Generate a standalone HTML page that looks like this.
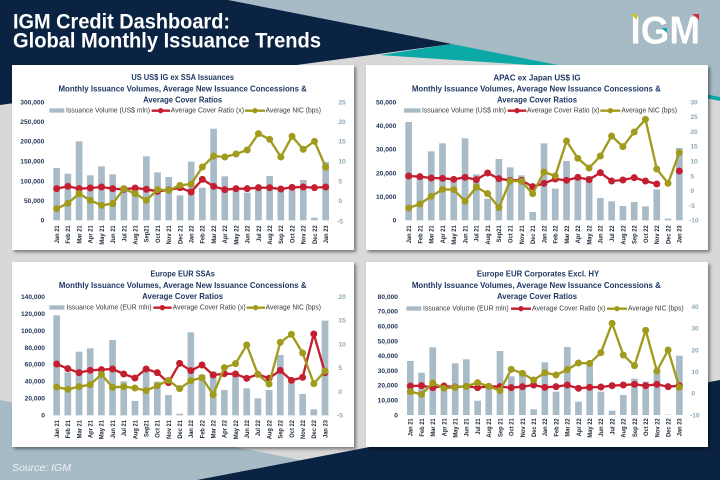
<!DOCTYPE html>
<html><head><meta charset="utf-8">
<style>
body{margin:0;width:720px;height:480px;overflow:hidden;position:relative;background:#d8d8d8;font-family:"Liberation Sans",sans-serif}
.bg{position:absolute;left:0;top:0}
.p{position:absolute;width:342px;height:185px;background:#fff;box-shadow:2px 2px 3px rgba(0,0,0,.45)}
.c{position:absolute;overflow:visible}
.c text{font-family:"Liberation Sans",sans-serif}
.t{font-size:25px;font-weight:bold;fill:#1f3864;text-anchor:middle}
.la{font-size:20px;font-weight:bold;fill:#26395a;text-anchor:end}
.ra{font-size:20px;font-weight:bold;fill:#8ea8b9}
.lg{font-size:21px;fill:#3a3a3a}
.xl{font-size:20px;font-weight:bold;fill:#1c2838;text-anchor:end}
.bar{fill:#a8bbc7}
.rl{fill:none;stroke:#c41f30;stroke-width:7;stroke-linejoin:round}
.ol{fill:none;stroke:#a19b1d;stroke-width:7;stroke-linejoin:round}
</style></head><body>
<svg class="bg" width="720" height="480" viewBox="0 0 720 480">
<rect width="720" height="480" fill="#d8d8d8"/>
<polygon points="0,0 720,0 720,97 452,44" fill="#a7bbc6"/>
<polygon points="0,0 228,0 452,44 0,105" fill="#0b2343"/>
<polygon points="380,55 452,44 720,97 720,101 560,67" fill="#0aa9a6"/>
<polygon points="0,400 300,460 300,480 0,480" fill="#a7bbc6"/>
<polygon points="197,480 720,380 720,480" fill="#0b2343"/>
<text x="13" y="28.5" font-size="21" font-weight="bold" fill="#fff" textLength="217" lengthAdjust="spacingAndGlyphs">IGM Credit Dashboard:</text>
<text x="13" y="47.3" font-size="21" font-weight="bold" fill="#fff" textLength="308" lengthAdjust="spacingAndGlyphs">Global Monthly Issuance Trends</text>
<text x="630.5" y="43.3" font-size="39" font-weight="bold" fill="#fff" textLength="69.5" lengthAdjust="spacingAndGlyphs">IGM</text>
<polygon points="630.7,14 637,14 637,20" fill="#c8c61e"/>
<polygon points="692.5,14 699,14 699,20" fill="#d42a36"/>
<polygon points="661.5,28 667,28 667,33" fill="#0aa9a6"/>
<text x="12" y="471" font-size="10.5" font-style="italic" fill="#eef2f5">Source: IGM</text>
</svg>

<div class="p" style="left:12px;top:65px"></div>
<div class="p" style="left:366px;top:65px"></div>
<div class="p" style="left:12px;top:262px"></div>
<div class="p" style="left:366px;top:262px"></div>

<!-- Chart 1 -->
<svg class="c" style="left:5px;top:62px" width="355" height="195" viewBox="0 0 1065 585">
<defs>
<marker id="mr1" viewBox="-11 -11 22 22" markerWidth="22" markerHeight="22" markerUnits="userSpaceOnUse"><circle r="10.5" fill="#c41f30"/></marker>
<marker id="mo1" viewBox="-11 -11 22 22" markerWidth="22" markerHeight="22" markerUnits="userSpaceOnUse"><circle r="10.5" fill="#a19b1d"/></marker>
</defs>
<text class="t" x="533" y="54" textLength="308" lengthAdjust="spacingAndGlyphs">US US$ IG ex SSA Issuances</text>
<text class="t" x="533" y="89" textLength="745" lengthAdjust="spacingAndGlyphs">Monthly Issuance Volumes, Average New Issuance Concessions &amp;</text>
<text class="t" x="533" y="121" textLength="237" lengthAdjust="spacingAndGlyphs">Average Cover Ratios</text>
<g class="la">
<text x="118" y="127">300,000</text><text x="118" y="186">250,000</text><text x="118" y="245">200,000</text><text x="118" y="305">150,000</text><text x="118" y="364">100,000</text><text x="118" y="423">50,000</text><text x="118" y="482">0</text>
</g>
<g class="ra">
<text x="1000" y="127">25</text><text x="1000" y="186">20</text><text x="1000" y="245">15</text><text x="1000" y="305">10</text><text x="1000" y="364">5</text><text x="1000" y="423">0</text><text x="996" y="484">-5</text>
</g>
<g class="bar">
<rect x="145" y="318" width="20" height="157"/><rect x="178.6" y="335" width="20" height="140"/><rect x="212.3" y="238" width="20" height="237"/><rect x="245.9" y="340" width="20" height="135"/><rect x="279.5" y="313" width="20" height="162"/><rect x="313.1" y="337" width="20" height="138"/><rect x="346.8" y="372" width="20" height="103"/><rect x="380.4" y="380" width="20" height="95"/><rect x="414" y="283" width="20" height="192"/><rect x="447.6" y="331" width="20" height="144"/><rect x="481.3" y="345" width="20" height="130"/><rect x="514.9" y="400" width="20" height="75"/><rect x="548.5" y="299" width="20" height="176"/><rect x="582.1" y="377" width="20" height="98"/><rect x="615.8" y="200" width="20" height="275"/><rect x="649.4" y="343" width="20" height="132"/><rect x="683" y="385" width="20" height="90"/><rect x="716.6" y="392" width="20" height="83"/><rect x="750.3" y="378" width="20" height="97"/><rect x="783.9" y="342" width="20" height="133"/><rect x="817.5" y="385" width="20" height="90"/><rect x="851.1" y="382" width="20" height="93"/><rect x="884.8" y="354" width="20" height="121"/><rect x="918.4" y="467" width="20" height="8"/><rect x="952" y="300" width="20" height="175"/>
</g>
<rect class="bar" x="133" y="139" width="45" height="13"/>
<text class="lg" x="183" y="152" textLength="252" lengthAdjust="spacingAndGlyphs">Issuance Volume (US$ mln)</text>
<line x1="440" y1="146" x2="495" y2="146" stroke="#c41f30" stroke-width="7"/><circle cx="467" cy="146" r="8" fill="#c41f30"/>
<text class="lg" x="497" y="152" textLength="220" lengthAdjust="spacingAndGlyphs">Average Cover Ratio (x)</text>
<line x1="720" y1="146" x2="780" y2="146" stroke="#a19b1d" stroke-width="7"/><circle cx="750" cy="146" r="8" fill="#a19b1d"/>
<text class="lg" x="782" y="152" textLength="166" lengthAdjust="spacingAndGlyphs">Average NIC (bps)</text>
<polyline class="rl" marker-start="url(#mr1)" marker-mid="url(#mr1)" marker-end="url(#mr1)" points="155,380 188.6,373 222.3,380 255.9,378 289.5,375 323.1,380 356.8,382 390.4,378 424,382 457.6,388 491.3,384 524.9,377 558.5,390 592.1,352 625.8,373 659.4,383 693,380 726.6,380 760.3,377 793.9,377 827.5,381 861.1,376 894.8,375 928.4,377 962,375"/>
<polyline class="ol" marker-start="url(#mo1)" marker-mid="url(#mo1)" marker-end="url(#mo1)" points="155,440 188.6,424 222.3,395 255.9,415 289.5,430 323.1,425 356.8,380 390.4,395 424,415 457.6,383 491.3,385 524.9,370 558.5,366 592.1,315 625.8,282 659.4,285 693,276 726.6,264 760.3,215 793.9,232 827.5,285 861.1,223 894.8,262 928.4,238 962,315"/>
<g class="xl">
<text transform="translate(162,490) rotate(-90) scale(0.87,1)">Jan 21</text><text transform="translate(195.6,490) rotate(-90) scale(0.87,1)">Feb 21</text><text transform="translate(229.3,490) rotate(-90) scale(0.87,1)">Mar 21</text><text transform="translate(262.9,490) rotate(-90) scale(0.87,1)">Apr 21</text><text transform="translate(296.5,490) rotate(-90) scale(0.87,1)">May 21</text><text transform="translate(330.1,490) rotate(-90) scale(0.87,1)">Jun 21</text><text transform="translate(363.8,490) rotate(-90) scale(0.87,1)">Jul 21</text><text transform="translate(397.4,490) rotate(-90) scale(0.87,1)">Aug 21</text><text transform="translate(431,490) rotate(-90) scale(0.87,1)">Sep21</text><text transform="translate(464.6,490) rotate(-90) scale(0.87,1)">Oct 21</text><text transform="translate(498.3,490) rotate(-90) scale(0.87,1)">Nov 21</text><text transform="translate(531.9,490) rotate(-90) scale(0.87,1)">Dec 21</text><text transform="translate(565.5,490) rotate(-90) scale(0.87,1)">Jan 22</text><text transform="translate(599.1,490) rotate(-90) scale(0.87,1)">Feb 22</text><text transform="translate(632.8,490) rotate(-90) scale(0.87,1)">Mar 22</text><text transform="translate(666.4,490) rotate(-90) scale(0.87,1)">Apr 22</text><text transform="translate(700,490) rotate(-90) scale(0.87,1)">May 22</text><text transform="translate(733.6,490) rotate(-90) scale(0.87,1)">Jun 22</text><text transform="translate(767.3,490) rotate(-90) scale(0.87,1)">Jul 22</text><text transform="translate(800.9,490) rotate(-90) scale(0.87,1)">Aug 22</text><text transform="translate(834.5,490) rotate(-90) scale(0.87,1)">Sep 22</text><text transform="translate(868.1,490) rotate(-90) scale(0.87,1)">Oct 22</text><text transform="translate(901.8,490) rotate(-90) scale(0.87,1)">Nov 22</text><text transform="translate(935.4,490) rotate(-90) scale(0.87,1)">Dec 22</text><text transform="translate(969,490) rotate(-90) scale(0.87,1)">Jan 23</text>
</g>
</svg>

<!-- Chart 3: APAC -->
<svg class="c" style="left:362px;top:62px" width="355" height="195" viewBox="0 0 1065 585">
<defs>
<marker id="mr3" viewBox="-11 -11 22 22" markerWidth="22" markerHeight="22" markerUnits="userSpaceOnUse"><circle r="10.5" fill="#c41f30"/></marker>
<marker id="mo3" viewBox="-11 -11 22 22" markerWidth="22" markerHeight="22" markerUnits="userSpaceOnUse"><circle r="10.5" fill="#a19b1d"/></marker>
</defs>
<text class="t" x="525" y="56" textLength="262" lengthAdjust="spacingAndGlyphs">APAC ex Japan US$ IG</text>
<text class="t" x="523" y="89" textLength="747" lengthAdjust="spacingAndGlyphs">Monthly Issuance Volumes, Average New Issuance Concessions &amp;</text>
<text class="t" x="525" y="121" textLength="240" lengthAdjust="spacingAndGlyphs">Average Cover Ratios</text>
<g class="la">
<text x="103" y="127">50,000</text><text x="103" y="198">40,000</text><text x="103" y="269">30,000</text><text x="103" y="340">20,000</text><text x="103" y="411">10,000</text><text x="103" y="482">0</text>
</g>
<g class="ra">
<text x="985" y="127">30</text><text x="985" y="171">25</text><text x="985" y="216">20</text><text x="985" y="260">15</text><text x="985" y="304">10</text><text x="985" y="349">5</text><text x="985" y="393">0</text><text x="981" y="438">-5</text><text x="981" y="482">-10</text>
</g>
<g class="bar">
<rect x="130" y="180" width="20" height="295"/><rect x="163.8" y="342" width="20" height="133"/><rect x="197.7" y="268" width="20" height="207"/><rect x="231.5" y="244" width="20" height="231"/><rect x="265.3" y="350" width="20" height="125"/><rect x="299.2" y="229" width="20" height="246"/><rect x="333" y="337" width="20" height="138"/><rect x="366.8" y="410" width="20" height="65"/><rect x="400.6" y="291" width="20" height="184"/><rect x="434.5" y="316" width="20" height="159"/><rect x="468.3" y="340" width="20" height="135"/><rect x="502.1" y="450" width="20" height="25"/><rect x="536" y="244" width="20" height="231"/><rect x="569.8" y="380" width="20" height="95"/><rect x="603.6" y="297" width="20" height="178"/><rect x="637.5" y="345" width="20" height="130"/><rect x="671.3" y="342" width="20" height="133"/><rect x="705.1" y="408" width="20" height="67"/><rect x="738.9" y="418" width="20" height="57"/><rect x="772.8" y="432" width="20" height="43"/><rect x="806.6" y="420" width="20" height="55"/><rect x="840.4" y="433" width="20" height="42"/><rect x="874.3" y="382" width="20" height="93"/><rect x="908.1" y="470" width="20" height="5"/><rect x="941.9" y="258" width="20" height="217"/>
</g>
<rect class="bar" x="126" y="139" width="50" height="13"/>
<text class="lg" x="180" y="152" textLength="252" lengthAdjust="spacingAndGlyphs">Issuance Volume (US$ mln)</text>
<line x1="437" y1="146" x2="493" y2="146" stroke="#c41f30" stroke-width="7"/><circle cx="465" cy="146" r="8" fill="#c41f30"/>
<text class="lg" x="495" y="152" textLength="217" lengthAdjust="spacingAndGlyphs">Average Cover Ratio (x)</text>
<line x1="715" y1="146" x2="775" y2="146" stroke="#a19b1d" stroke-width="7"/><circle cx="745" cy="146" r="8" fill="#a19b1d"/>
<text class="lg" x="778" y="152" textLength="167" lengthAdjust="spacingAndGlyphs">Average NIC (bps)</text>
<polyline class="rl" marker-start="url(#mr3)" marker-mid="url(#mr3)" marker-end="url(#mr3)" points="140,342 173.8,344 207.7,348 241.5,349 275.3,352 309.2,346 343,353 376.8,333 410.6,350 444.5,355 478.3,355 512.1,374 546,364 579.8,351 613.6,355 647.5,346 681.3,353 715.1,332 748.9,357 782.8,354 816.6,347 850.4,357 884.3,366"/>
<circle cx="951.9" cy="327" r="10.5" fill="#c41f30"/>
<polyline class="ol" marker-start="url(#mo3)" marker-mid="url(#mo3)" marker-end="url(#mo3)" points="140,438 173.8,426 207.7,403 241.5,382 275.3,383 309.2,418 343,375 376.8,395 410.6,437 444.5,357 478.3,358 512.1,395 546,330 579.8,342 613.6,237 647.5,289 681.3,318 715.1,282 748.9,222 782.8,254 816.6,210 850.4,172 884.3,321 918.1,364 951.9,272"/>
<g class="xl">
<text transform="translate(147,490) rotate(-90) scale(0.87,1)">Jan 21</text><text transform="translate(180.8,490) rotate(-90) scale(0.87,1)">Feb 21</text><text transform="translate(214.7,490) rotate(-90) scale(0.87,1)">Mar 21</text><text transform="translate(248.5,490) rotate(-90) scale(0.87,1)">Apr 21</text><text transform="translate(282.3,490) rotate(-90) scale(0.87,1)">May 21</text><text transform="translate(316.2,490) rotate(-90) scale(0.87,1)">Jun 21</text><text transform="translate(350,490) rotate(-90) scale(0.87,1)">Jul 21</text><text transform="translate(383.8,490) rotate(-90) scale(0.87,1)">Aug 21</text><text transform="translate(417.6,490) rotate(-90) scale(0.87,1)">Sep21</text><text transform="translate(451.5,490) rotate(-90) scale(0.87,1)">Oct 21</text><text transform="translate(485.3,490) rotate(-90) scale(0.87,1)">Nov 21</text><text transform="translate(519.1,490) rotate(-90) scale(0.87,1)">Dec 21</text><text transform="translate(553,490) rotate(-90) scale(0.87,1)">Jan 22</text><text transform="translate(586.8,490) rotate(-90) scale(0.87,1)">Feb 22</text><text transform="translate(620.6,490) rotate(-90) scale(0.87,1)">Mar 22</text><text transform="translate(654.5,490) rotate(-90) scale(0.87,1)">Apr 22</text><text transform="translate(688.3,490) rotate(-90) scale(0.87,1)">May 22</text><text transform="translate(722.1,490) rotate(-90) scale(0.87,1)">Jun 22</text><text transform="translate(755.9,490) rotate(-90) scale(0.87,1)">Jul 22</text><text transform="translate(789.8,490) rotate(-90) scale(0.87,1)">Aug 22</text><text transform="translate(823.6,490) rotate(-90) scale(0.87,1)">Sep 22</text><text transform="translate(857.4,490) rotate(-90) scale(0.87,1)">Oct 22</text><text transform="translate(891.3,490) rotate(-90) scale(0.87,1)">Nov 22</text><text transform="translate(925.1,490) rotate(-90) scale(0.87,1)">Dec 22</text><text transform="translate(958.9,490) rotate(-90) scale(0.87,1)">Jan 23</text>
</g>
</svg>

<!-- Chart 2: Europe EUR SSAs -->
<svg class="c" style="left:5px;top:255px" width="355" height="200" viewBox="0 0 1065 600">
<defs>
<marker id="mr2" viewBox="-11 -11 22 22" markerWidth="22" markerHeight="22" markerUnits="userSpaceOnUse"><circle r="10.5" fill="#c41f30"/></marker>
<marker id="mo2" viewBox="-11 -11 22 22" markerWidth="22" markerHeight="22" markerUnits="userSpaceOnUse"><circle r="10.5" fill="#a19b1d"/></marker>
</defs>
<text class="t" x="533" y="64" textLength="193" lengthAdjust="spacingAndGlyphs">Europe EUR SSAs</text>
<text class="t" x="533" y="99" textLength="743" lengthAdjust="spacingAndGlyphs">Monthly Issuance Volumes, Average New Issuance Concessions &amp;</text>
<text class="t" x="533" y="132" textLength="243" lengthAdjust="spacingAndGlyphs">Average Cover Ratios</text>
<g class="la">
<text x="120" y="132">140,000</text><text x="120" y="183">120,000</text><text x="120" y="234">100,000</text><text x="120" y="285">80,000</text><text x="120" y="335">60,000</text><text x="120" y="386">40,000</text><text x="120" y="437">20,000</text><text x="120" y="488">0</text>
</g>
<g class="ra">
<text x="1000" y="132">20</text><text x="1000" y="203">15</text><text x="1000" y="274">10</text><text x="1000" y="345">5</text><text x="1000" y="417">0</text><text x="996" y="488">-5</text>
</g>
<g class="bar">
<rect x="145" y="181" width="20" height="300"/><rect x="178.5" y="352" width="20" height="129"/><rect x="212.1" y="290" width="20" height="191"/><rect x="245.6" y="280" width="20" height="201"/><rect x="279.2" y="352" width="20" height="129"/><rect x="312.7" y="255" width="20" height="226"/><rect x="346.2" y="379" width="20" height="102"/><rect x="379.8" y="438" width="20" height="43"/><rect x="413.3" y="340" width="20" height="141"/><rect x="446.9" y="380" width="20" height="101"/><rect x="480.4" y="420" width="20" height="61"/><rect x="513.9" y="476" width="20" height="5"/><rect x="547.5" y="232" width="20" height="249"/><rect x="581" y="359" width="20" height="122"/><rect x="614.6" y="349" width="20" height="132"/><rect x="648.1" y="405" width="20" height="76"/><rect x="681.6" y="361" width="20" height="120"/><rect x="715.2" y="400" width="20" height="81"/><rect x="748.7" y="430" width="20" height="51"/><rect x="782.3" y="405" width="20" height="76"/><rect x="815.8" y="300" width="20" height="181"/><rect x="849.3" y="380" width="20" height="101"/><rect x="882.9" y="417" width="20" height="64"/><rect x="916.4" y="463" width="20" height="18"/><rect x="950" y="197" width="20" height="284"/>
</g>
<rect class="bar" x="133" y="151" width="45" height="13"/>
<text class="lg" x="185" y="164" textLength="255" lengthAdjust="spacingAndGlyphs">Issuance Volume (EUR mln)</text>
<line x1="445" y1="158" x2="500" y2="158" stroke="#c41f30" stroke-width="7"/><circle cx="472" cy="158" r="8" fill="#c41f30"/>
<text class="lg" x="503" y="164" textLength="219" lengthAdjust="spacingAndGlyphs">Average Cover Ratio (x)</text>
<line x1="725" y1="158" x2="780" y2="158" stroke="#a19b1d" stroke-width="7"/><circle cx="752" cy="158" r="8" fill="#a19b1d"/>
<text class="lg" x="782" y="164" textLength="166" lengthAdjust="spacingAndGlyphs">Average NIC (bps)</text>
<polyline class="rl" marker-start="url(#mr2)" marker-mid="url(#mr2)" marker-end="url(#mr2)" points="155,327 188.5,341 222.1,353 255.6,346 289.2,344 322.7,342 356.2,357 389.8,369 423.3,342 456.9,353 490.4,383 523.9,325 557.5,347 591,330 624.6,360 658.1,356 691.6,357 725.2,370 758.7,358 792.3,370 825.8,346 859.3,376 892.9,367 926.4,237 960,353"/>
<polyline class="ol" marker-start="url(#mo2)" marker-mid="url(#mo2)" marker-end="url(#mo2)" points="155,396 188.5,403 222.1,395 255.6,389 289.2,358 322.7,397 356.2,395 389.8,399 423.3,407 456.9,392 490.4,376 523.9,401 557.5,377 591,368 624.6,419 658.1,338 691.6,326 725.2,270 758.7,358 792.3,387 825.8,262 859.3,238 892.9,294 926.4,386 960,348"/>
<g class="xl">
<text transform="translate(162,495) rotate(-90) scale(0.87,1)">Jan 21</text><text transform="translate(195.5,495) rotate(-90) scale(0.87,1)">Feb 21</text><text transform="translate(229.1,495) rotate(-90) scale(0.87,1)">Mar 21</text><text transform="translate(262.6,495) rotate(-90) scale(0.87,1)">Apr 21</text><text transform="translate(296.2,495) rotate(-90) scale(0.87,1)">May 21</text><text transform="translate(329.7,495) rotate(-90) scale(0.87,1)">Jun 21</text><text transform="translate(363.2,495) rotate(-90) scale(0.87,1)">Jul 21</text><text transform="translate(396.8,495) rotate(-90) scale(0.87,1)">Aug 21</text><text transform="translate(430.3,495) rotate(-90) scale(0.87,1)">Sep21</text><text transform="translate(463.9,495) rotate(-90) scale(0.87,1)">Oct 21</text><text transform="translate(497.4,495) rotate(-90) scale(0.87,1)">Nov 21</text><text transform="translate(530.9,495) rotate(-90) scale(0.87,1)">Dec 21</text><text transform="translate(564.5,495) rotate(-90) scale(0.87,1)">Jan 22</text><text transform="translate(598,495) rotate(-90) scale(0.87,1)">Feb 22</text><text transform="translate(631.6,495) rotate(-90) scale(0.87,1)">Mar 22</text><text transform="translate(665.1,495) rotate(-90) scale(0.87,1)">Apr 22</text><text transform="translate(698.6,495) rotate(-90) scale(0.87,1)">May 22</text><text transform="translate(732.2,495) rotate(-90) scale(0.87,1)">Jun 22</text><text transform="translate(765.7,495) rotate(-90) scale(0.87,1)">Jul 22</text><text transform="translate(799.3,495) rotate(-90) scale(0.87,1)">Aug 22</text><text transform="translate(832.8,495) rotate(-90) scale(0.87,1)">Sep 22</text><text transform="translate(866.3,495) rotate(-90) scale(0.87,1)">Oct 22</text><text transform="translate(899.9,495) rotate(-90) scale(0.87,1)">Nov 22</text><text transform="translate(933.4,495) rotate(-90) scale(0.87,1)">Dec 22</text><text transform="translate(967,495) rotate(-90) scale(0.87,1)">Jan 23</text>
</g>
</svg>

<!-- Chart 4: Europe EUR Corporates -->
<svg class="c" style="left:362px;top:255px" width="355" height="200" viewBox="0 0 1065 600">
<defs>
<marker id="mr4" viewBox="-11 -11 22 22" markerWidth="22" markerHeight="22" markerUnits="userSpaceOnUse"><circle r="10.5" fill="#c41f30"/></marker>
<marker id="mo4" viewBox="-11 -11 22 22" markerWidth="22" markerHeight="22" markerUnits="userSpaceOnUse"><circle r="10.5" fill="#a19b1d"/></marker>
</defs>
<text class="t" x="528" y="64" textLength="367" lengthAdjust="spacingAndGlyphs">Europe EUR Corporates Excl. HY</text>
<text class="t" x="523" y="99" textLength="747" lengthAdjust="spacingAndGlyphs">Monthly Issuance Volumes, Average New Issuance Concessions &amp;</text>
<text class="t" x="525" y="132" textLength="240" lengthAdjust="spacingAndGlyphs">Average Cover Ratios</text>
<g class="la">
<text x="108" y="132">80,000</text><text x="108" y="176">70,000</text><text x="108" y="221">60,000</text><text x="108" y="265">50,000</text><text x="108" y="309">40,000</text><text x="108" y="354">30,000</text><text x="108" y="398">20,000</text><text x="108" y="443">10,000</text><text x="108" y="487">0</text>
</g>
<g class="ra">
<text x="988" y="162">40</text><text x="988" y="227">30</text><text x="988" y="292">20</text><text x="988" y="357">10</text><text x="988" y="422">0</text><text x="984" y="487">-10</text>
</g>
<g class="bar">
<rect x="135" y="318" width="20" height="162"/><rect x="168.6" y="353" width="20" height="127"/><rect x="202.3" y="277" width="20" height="203"/><rect x="235.9" y="392" width="20" height="88"/><rect x="269.5" y="325" width="20" height="155"/><rect x="303.1" y="313" width="20" height="167"/><rect x="336.8" y="437" width="20" height="43"/><rect x="370.4" y="396" width="20" height="84"/><rect x="404" y="288" width="20" height="192"/><rect x="437.6" y="364" width="20" height="116"/><rect x="471.3" y="348" width="20" height="132"/><rect x="504.9" y="463" width="20" height="17"/><rect x="538.5" y="322" width="20" height="158"/><rect x="572.1" y="410" width="20" height="70"/><rect x="605.8" y="276" width="20" height="204"/><rect x="639.4" y="440" width="20" height="40"/><rect x="673" y="330" width="20" height="150"/><rect x="706.6" y="410" width="20" height="70"/><rect x="740.3" y="467" width="20" height="13"/><rect x="773.9" y="420" width="20" height="60"/><rect x="807.5" y="371" width="20" height="109"/><rect x="841.1" y="380" width="20" height="100"/><rect x="874.8" y="350" width="20" height="130"/><rect x="908.4" y="477" width="20" height="3" style="fill:#dde5ea"/><rect x="942" y="302" width="20" height="178"/>
</g>
<rect class="bar" x="133" y="154" width="45" height="13"/>
<text class="lg" x="183" y="167" textLength="257" lengthAdjust="spacingAndGlyphs">Issuance Volume (EUR mln)</text>
<line x1="447" y1="161" x2="507" y2="161" stroke="#c41f30" stroke-width="7"/><circle cx="477" cy="161" r="8" fill="#c41f30"/>
<text class="lg" x="510" y="167" textLength="220" lengthAdjust="spacingAndGlyphs">Average Cover Ratio (x)</text>
<line x1="735" y1="161" x2="795" y2="161" stroke="#a19b1d" stroke-width="7"/><circle cx="765" cy="161" r="8" fill="#a19b1d"/>
<text class="lg" x="798" y="167" textLength="167" lengthAdjust="spacingAndGlyphs">Average NIC (bps)</text>
<polyline class="rl" marker-start="url(#mr4)" marker-mid="url(#mr4)" marker-end="url(#mr4)" points="145,393 178.6,392 212.3,398 245.9,393 279.5,396 313.1,394 346.8,398 380.4,394 414,395 447.6,398 481.3,395 514.9,390 548.5,397 582.1,395 615.8,390 649.4,400 683,397 716.6,396 750.3,392 783.9,390 817.5,388 851.1,392 884.8,388 918.4,395 952,392"/>
<polyline class="ol" marker-start="url(#mo4)" marker-mid="url(#mo4)" marker-end="url(#mo4)" points="145,410 178.6,418 212.3,384 245.9,400 279.5,397 313.1,394 346.8,383 380.4,394 414,407 447.6,343 481.3,355 514.9,375 548.5,353 582.1,360 615.8,344 649.4,324 683,325 716.6,293 750.3,205 783.9,300 817.5,332 851.1,226 884.8,348 918.4,285 952,397"/>
<g class="xl">
<text transform="translate(152,490) rotate(-90) scale(0.87,1)">Jan 21</text><text transform="translate(185.6,490) rotate(-90) scale(0.87,1)">Feb 21</text><text transform="translate(219.3,490) rotate(-90) scale(0.87,1)">Mar 21</text><text transform="translate(252.9,490) rotate(-90) scale(0.87,1)">Apr 21</text><text transform="translate(286.5,490) rotate(-90) scale(0.87,1)">May 21</text><text transform="translate(320.1,490) rotate(-90) scale(0.87,1)">Jun 21</text><text transform="translate(353.8,490) rotate(-90) scale(0.87,1)">Jul 21</text><text transform="translate(387.4,490) rotate(-90) scale(0.87,1)">Aug 21</text><text transform="translate(421,490) rotate(-90) scale(0.87,1)">Sep 21</text><text transform="translate(454.6,490) rotate(-90) scale(0.87,1)">Oct 21</text><text transform="translate(488.3,490) rotate(-90) scale(0.87,1)">Nov 21</text><text transform="translate(521.9,490) rotate(-90) scale(0.87,1)">Dec 21</text><text transform="translate(555.5,490) rotate(-90) scale(0.87,1)">Jan 22</text><text transform="translate(589.1,490) rotate(-90) scale(0.87,1)">Feb 22</text><text transform="translate(622.8,490) rotate(-90) scale(0.87,1)">Mar 22</text><text transform="translate(656.4,490) rotate(-90) scale(0.87,1)">Apr 22</text><text transform="translate(690,490) rotate(-90) scale(0.87,1)">May 22</text><text transform="translate(723.6,490) rotate(-90) scale(0.87,1)">Jun 22</text><text transform="translate(757.3,490) rotate(-90) scale(0.87,1)">Jul 22</text><text transform="translate(790.9,490) rotate(-90) scale(0.87,1)">Aug 22</text><text transform="translate(824.5,490) rotate(-90) scale(0.87,1)">Sep 22</text><text transform="translate(858.1,490) rotate(-90) scale(0.87,1)">Oct 22</text><text transform="translate(891.8,490) rotate(-90) scale(0.87,1)">Nov 22</text><text transform="translate(925.4,490) rotate(-90) scale(0.87,1)">Dec 22</text><text transform="translate(959,490) rotate(-90) scale(0.87,1)">Jan 23</text>
</g>
</svg>
</body></html>
